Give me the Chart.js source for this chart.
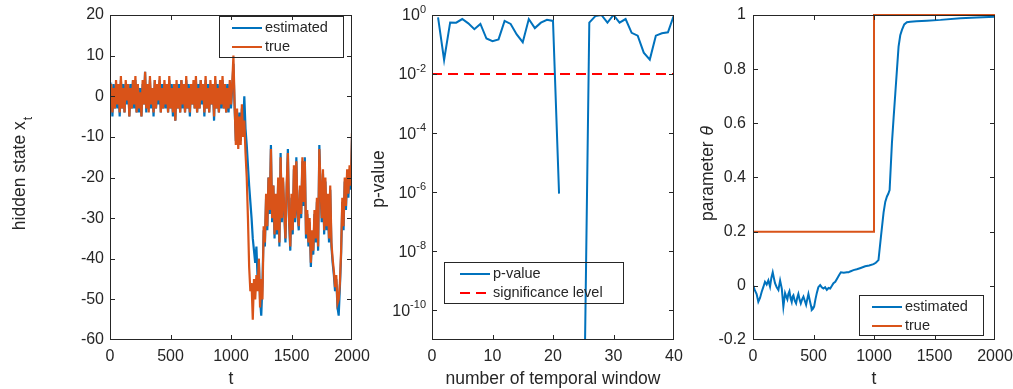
<!DOCTYPE html>
<html>
<head>
<meta charset="utf-8">
<script src="https://cdn.jsdelivr.net/npm/chart.js@4.4.1/dist/chart.umd.min.js"></script>
<style>
html, body { margin: 0; padding: 0; background: #fff; }
#wrap { position: relative; width: 1013px; height: 389px; overflow: hidden; }
canvas { position: absolute; top: 0; }
</style>
</head>
<body>
<div id="wrap">
  <canvas id="stateChart" width="380" height="389" style="left:0px"></canvas>
  <canvas id="pvalChart" width="340" height="389" style="left:360px"></canvas>
  <canvas id="thetaChart" width="333" height="389" style="left:680px"></canvas>
</div>
<script>
const BLUE = '#0072BD', ORANGE = '#D95319', RED = '#FF0000', AXIS = '#262626';
const FONT = "'Liberation Sans', Arial, Helvetica, sans-serif";

// ---- panel 1: hidden state, one sample every T_STEP
const T_STEP = 10;
const stateTrue = [
  0, 3, -4, 2, -3, 4, -2, 3, -4, 5,
  -3, 2, -4, 4, -1, 3, -5, 2, -3, 4,
  -2, 5, -4, 3, -3, 1, -5, 4, -2, 6,
  -3, 3, -4, 5, -2, 2, -4, 4, -3, 3,
  -1, 5, -4, 2, -3, 4, -2, 3, -4, 5,
  -3, 2, -4, 3, -6, 4, -3, 2, -4, 4,
  -2, 3, -4, 5, -3, 2, -4, 3, -2, 4,
  -3, 5, -4, 2, -3, 4, -1, 3, -4, 5,
  -3, 2, -4, 4, -2, 3, -5, 5, -3, 2,
  -4, 4, -2, 5, -3, 3, -4, 2, -3, 4,
  -2,
  3, 10, -2, -12, -3, -13, -5, -12, -2, -10,
  -6, -14, -20, -30, -42, -48, -46, -55, -45, -50,
  -44, -48, -40, -52, -45, -50, -32, -36, -24, -32,
  -20, -28, -13, -30, -22, -34, -24, -33, -20, -36,
  -15, -30, -20, -28, -35, -22, -14, -30, -37, -24,
  -33, -17, -30, -16, -28, -32, -22, -29, -15, -26,
  -16, -34, -28, -36, -30, -41, -33, -38, -28, -35,
  -25, -37, -13, -22, -30, -18, -33, -20, -32, -24,
  -35, -22, -36, -40, -43, -47, -44, -51, -50, -46,
  -38, -25, -32, -20, -27, -18, -24, -17, -22, -9
];
const stateEst = [
  1, 2, -5, 3, -3, 3, -3, 3, -5, 4,
  -3, 3, -4, 3, -2, 3, -5, 3, -3, 4,
  -3, 4, -4, 3, -4, 2, -5, 3, -2, 6,
  -4, 3, -3, 4, -3, 2, -5, 4, -3, 2,
  -2, 4, -4, 3, -3, 3, -3, 3, -4, 4,
  -3, 3, -5, 3, -6, 3, -3, 3, -4, 4,
  -3, 3, -4, 4, -3, 3, -5, 3, -2, 3,
  -3, 4, -4, 3, -3, 4, -2, 3, -5, 4,
  -3, 3, -4, 3, -2, 3, -6, 4, -3, 3,
  -4, 3, -3, 4, -3, 3, -4, 3, -4, 3,
  -3,
  2, 8, -3, -11, -4, -12, -4, -11, -3, -8,
  0, -8, -12, -17, -22, -26, -30, -35, -38, -41,
  -37, -45, -40, -50, -54, -46, -33, -37, -25, -33,
  -20, -29, -12, -31, -22, -35, -25, -34, -21, -37,
  -14, -31, -21, -29, -36, -23, -13, -31, -38, -25,
  -34, -18, -31, -15, -29, -33, -23, -30, -16, -27,
  -15, -35, -29, -37, -31, -42, -34, -39, -29, -36,
  -26, -38, -12, -23, -31, -19, -34, -21, -33, -25,
  -36, -23, -37, -41, -44, -48, -45, -52, -54, -47,
  -39, -26, -33, -21, -28, -19, -25, -18, -23, -10
];
const stateXTicks = [0, 500, 1000, 1500, 2000];
const stateYTicks = [-60, -50, -40, -30, -20, -10, 0, 10, 20];

// ---- panel 2: p-values per temporal window (null = zero, not drawn on log axis)
const pWindow = [1, 2, 3, 4, 5, 6, 7, 8, 9, 10, 11, 12, 13, 14, 15, 16, 17, 18, 19, 20,
  21, 22, 23, 24, 25, 26, 27, 28, 29, 30, 31, 32, 33, 34, 35, 36, 37, 38, 39, 40];
const pValue = [0.83, 0.03, 0.56, 0.55, 0.73, 0.52, 0.33, 0.5, 0.16, 0.13,
  0.15, 0.63, 0.5, 0.22, 0.12, 0.73, 0.36, 0.55, 0.69, 0.63,
  9e-7, null, null, null, 2.5e-16, 0.55, 0.92, 1.0, 0.55, 1.0,
  0.55, 0.73, 0.25, 0.2, 0.053, 0.031, 0.2, 0.24, 0.26, 1.0];
const sigWindow = [0, 40];
const sigLevel = [0.01, 0.01];
const pXTicks = [0, 10, 20, 30, 40];
const pExpTicks = [-10, -8, -6, -4, -2, 0];

// ---- panel 3: parameter theta
const thetaT = [0, 14, 30, 44, 58, 72, 85, 99, 113, 127,
  141, 152, 163, 172, 182, 196, 210, 224, 238, 251,
  265, 275, 284, 292, 301, 310, 320, 327, 334, 345,
  356, 365, 375, 385, 395, 406, 417, 428, 439, 448,
  458, 465, 472, 480, 486, 495, 505, 516, 527, 540,
  555, 568, 582, 596, 610, 624, 638, 652, 665, 680,
  698, 712, 726, 750, 776, 790, 803, 830, 858, 890,
  927, 960, 996, 1015, 1037, 1057, 1079, 1093, 1107, 1118,
  1129, 1148, 1162, 1176, 1190, 1203, 1217, 1231, 1250, 1272,
  1300, 1350, 1437, 1550, 1713, 1850, 2000];
const thetaEst = [0.003, -0.015, -0.03, -0.059, -0.045, -0.022, -0.005, 0.015, 0.005, 0.02,
  -0.003, 0.03, 0.05, 0.03, 0.01, -0.005, -0.015, 0.02, -0.01, -0.077,
  -0.027, -0.04, -0.05, -0.03, -0.02, -0.045, -0.06, -0.04, -0.035, -0.055,
  -0.065, -0.045, -0.03, -0.05, -0.065, -0.05, -0.04, -0.055, -0.07, -0.05,
  -0.03, -0.045, -0.06, -0.075, -0.089, -0.085, -0.077, -0.05, -0.027, -0.005,
  0.003, -0.005, -0.01, -0.005, -0.015, -0.008, -0.01, 0.0, 0.01, 0.015,
  0.029, 0.04, 0.05, 0.048, 0.05, 0.05, 0.053, 0.058, 0.061, 0.066,
  0.072, 0.075, 0.08, 0.085, 0.095, 0.18, 0.27, 0.31, 0.33, 0.34,
  0.354, 0.526, 0.62, 0.71, 0.8, 0.883, 0.925, 0.945, 0.965, 0.973,
  0.975, 0.977, 0.979, 0.982, 0.988, 0.991, 0.994];
const thetaTrueT = [0, 1000, 1000, 2000];
const thetaTrueV = [0.2, 0.2, 1, 1];
const thetaXTicks = [0, 500, 1000, 1500, 2000];
const thetaYTicks = [-0.2, 0, 0.2, 0.4, 0.6, 0.8, 1];

Chart.defaults.font.family = FONT;
Chart.defaults.font.size = 16;
Chart.defaults.color = AXIS;
Chart.defaults.animation = false;

// plain labels, no thousands separator
const plain = v => String(v);

function xAxis(min, max, ticks, extra) {
  return Object.assign({
    type: 'linear', min, max,
    grid: { display: false, drawTicks: false },
    border: { display: false },
    ticks: { padding: 7, autoSkip: false, maxRotation: 0, callback: plain },
    afterBuildTicks: s => { s.ticks = ticks.map(v => ({ value: v })); },
    afterFit: s => { s.height = 49; s.paddingLeft = 0; s.paddingRight = 0; }
  }, extra || {});
}

function yAxis(width, min, max, ticks, extra) {
  return Object.assign({
    type: 'linear', min, max,
    grid: { display: false, drawTicks: false },
    border: { display: false },
    ticks: { padding: 6, autoSkip: false, callback: plain },
    afterBuildTicks: s => { s.ticks = ticks.map(v => ({ value: v })); },
    afterFit: s => { s.width = width; s.paddingTop = 0; s.paddingBottom = 0; }
  }, extra || {});
}

function line(label, data, color, extra) {
  return Object.assign({
    label, data, borderColor: color, backgroundColor: color,
    borderWidth: 2, pointRadius: 0, tension: 0, fill: false
  }, extra || {});
}

// matlab-like box, inward ticks, legend and axis titles
function matlabAxes(cfg) {
  return {
    id: 'matlabAxes',
    afterDatasetsDraw(chart) {
      const ctx = chart.ctx, a = chart.chartArea;
      const xs = chart.scales.x, ys = chart.scales.y;
      ctx.save();
      ctx.strokeStyle = AXIS;
      ctx.lineWidth = 1;
      ctx.beginPath();
      xs.ticks.forEach(t => {
        const px = Math.round(xs.getPixelForValue(t.value)) + 0.5;
        if (px < a.left + 2 || px > a.right - 2) return;
        ctx.moveTo(px, a.bottom); ctx.lineTo(px, a.bottom - 5);
        ctx.moveTo(px, a.top); ctx.lineTo(px, a.top + 5);
      });
      ys.ticks.forEach(t => {
        const py = Math.round(ys.getPixelForValue(t.value)) + 0.5;
        if (py < a.top + 2 || py > a.bottom - 2) return;
        ctx.moveTo(a.left, py); ctx.lineTo(a.left + 5, py);
        ctx.moveTo(a.right, py); ctx.lineTo(a.right - 5, py);
      });
      ctx.stroke();
      ctx.strokeRect(a.left + 0.5, a.top + 0.5, a.right - a.left - 1, a.bottom - a.top - 1);

      // log tick labels with superscripts
      if (cfg.expTicks) {
        ctx.fillStyle = AXIS;
        ctx.textBaseline = 'middle';
        ctx.textAlign = 'left';
        cfg.expTicks.forEach(e => {
          const py = ys.getPixelForValue(Math.pow(10, e));
          ctx.font = '16px ' + FONT;
          const wb = ctx.measureText('10').width;
          ctx.font = '11px ' + FONT;
          const we = ctx.measureText(String(e)).width;
          const x0 = cfg.expRight - wb - we;
          ctx.font = '16px ' + FONT;
          ctx.fillText('10', x0, py + 1);
          ctx.font = '11px ' + FONT;
          ctx.fillText(String(e), x0 + wb, py - 5);
        });
      }

      // legend
      const lg = cfg.legend;
      ctx.strokeStyle = AXIS;
      ctx.lineWidth = 1;
      ctx.strokeRect(lg.x + 0.5, lg.y + 0.5, lg.w, lg.h);
      ctx.font = '14.5px ' + FONT;
      ctx.textBaseline = 'middle';
      ctx.textAlign = 'left';
      lg.order.forEach((di, i) => {
        const ds = chart.data.datasets[di];
        const y = lg.rows[i];
        ctx.strokeStyle = ds.borderColor;
        ctx.lineWidth = 2;
        ctx.setLineDash(ds.borderDash || []);
        ctx.beginPath(); ctx.moveTo(lg.sx0, y); ctx.lineTo(lg.sx1, y); ctx.stroke();
        ctx.setLineDash([]);
        ctx.fillStyle = AXIS;
        ctx.fillText(ds.label, lg.tx, y);
      });

      // axis titles
      ctx.fillStyle = AXIS;
      ctx.font = '17.5px ' + FONT;
      ctx.textAlign = 'center';
      ctx.textBaseline = 'alphabetic';
      ctx.fillText(cfg.xTitle, (a.left + a.right) / 2, 384);

      const yt = cfg.yTitle;
      ctx.save();
      ctx.translate(yt.x, yt.cy);
      ctx.rotate(-Math.PI / 2);
      ctx.textAlign = 'left';
      ctx.font = '17.5px ' + FONT;
      const w1 = ctx.measureText(yt.main).width;
      ctx.font = yt.subFont;
      const w2 = yt.sub ? ctx.measureText(yt.sub).width : 0;
      const start = -(w1 + w2) / 2;
      ctx.font = '17.5px ' + FONT;
      ctx.fillText(yt.main, start, 0);
      if (yt.sub) {
        ctx.font = yt.subFont;
        ctx.fillText(yt.sub, start + w1 + 1, yt.subDy);
      }
      ctx.restore();
      ctx.restore();
    }
  };
}

// ---- panel 1
const tIndex = stateTrue.map((v, i) => i * T_STEP);
new Chart(document.getElementById('stateChart'), {
  type: 'line',
  data: {
    datasets: [
      line('estimated', stateEst.map((v, i) => ({ x: tIndex[i], y: v })), BLUE, { order: 2, borderWidth: 2.2 }),
      line('true', stateTrue.map((v, i) => ({ x: tIndex[i], y: v })), ORANGE, { order: 1, borderWidth: 2.2 })
    ]
  },
  options: {
    responsive: false,
    layout: { padding: { top: 15, right: 28, left: 0, bottom: 0 } },
    plugins: { legend: { display: false }, tooltip: { enabled: false } },
    scales: {
      x: xAxis(0, 2000, stateXTicks),
      y: yAxis(110, -60, 20, stateYTicks)
    }
  },
  plugins: [matlabAxes({
    xTitle: 't',
    yTitle: { x: 25, cy: 174, main: 'hidden state x', sub: 't', subFont: '12px ' + FONT, subDy: 7 },
    legend: { x: 219, y: 16, w: 124, h: 41, sx0: 232, sx1: 262, tx: 265, rows: [28, 47], order: [0, 1] }
  })]
});

// ---- panel 2
new Chart(document.getElementById('pvalChart'), {
  type: 'line',
  data: {
    datasets: [
      line('p-value', pValue.map((v, i) => ({ x: pWindow[i], y: v })), BLUE, { order: 2 }),
      line('significance level', sigLevel.map((v, i) => ({ x: sigWindow[i], y: v })), RED,
        { order: 1, borderDash: [10, 6] })
    ]
  },
  options: {
    responsive: false,
    spanGaps: false,
    layout: { padding: { top: 15, right: 26, left: 0, bottom: 0 } },
    plugins: { legend: { display: false }, tooltip: { enabled: false } },
    scales: {
      x: xAxis(0, 40, pXTicks),
      y: yAxis(72, 1e-11, 1, pExpTicks.map(e => Math.pow(10, e)),
        { type: 'logarithmic', ticks: { display: false } })
    }
  },
  plugins: [matlabAxes({
    xTitle: 'number of temporal window',
    yTitle: { x: 24, cy: 179, main: 'p-value', sub: '', subFont: '12px ' + FONT, subDy: 0 },
    expTicks: pExpTicks,
    expRight: 66,
    legend: { x: 84, y: 262, w: 179, h: 41, sx0: 100, sx1: 130, tx: 133, rows: [274, 293], order: [0, 1] }
  })]
});

// ---- panel 3
new Chart(document.getElementById('thetaChart'), {
  type: 'line',
  data: {
    datasets: [
      line('estimated', thetaEst.map((v, i) => ({ x: thetaT[i], y: v })), BLUE, { order: 2 }),
      line('true', thetaTrueV.map((v, i) => ({ x: thetaTrueT[i], y: v })), ORANGE, { order: 1, clip: 3 })
    ]
  },
  options: {
    responsive: false,
    layout: { padding: { top: 15, right: 18, left: 0, bottom: 0 } },
    plugins: { legend: { display: false }, tooltip: { enabled: false } },
    scales: {
      x: xAxis(0, 2000, thetaXTicks),
      y: yAxis(73, -0.2, 1, thetaYTicks, { ticks: { padding: 7, autoSkip: false, callback: plain } })
    }
  },
  plugins: [matlabAxes({
    xTitle: 't',
    yTitle: { x: 33, cy: 174, main: 'parameter ', sub: 'θ', subFont: 'italic 17.5px ' + FONT, subDy: 0 },
    legend: { x: 179, y: 295, w: 124, h: 40, sx0: 192, sx1: 222, tx: 225, rows: [307, 326], order: [0, 1] }
  })]
});
</script>
</body>
</html>
